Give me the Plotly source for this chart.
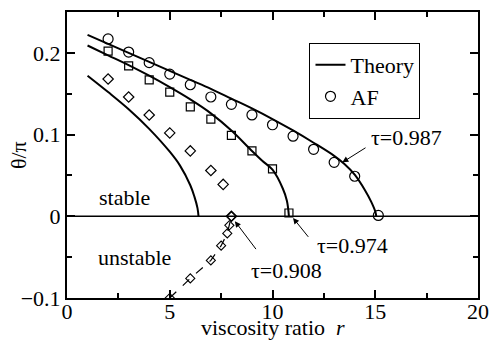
import plotly.graph_objects as go

# ---- data ----
r_af_987 = [2, 3, 4, 5, 6, 7, 8, 9, 10, 11, 12, 13, 14, 15.15]
th_af_987 = [0.217, 0.201, 0.188, 0.174, 0.161, 0.146, 0.137, 0.124, 0.112, 0.098, 0.082, 0.066, 0.049, 0.001]

r_af_974 = [2, 3, 4, 5, 6, 7, 8, 9, 10, 10.8]
th_af_974 = [0.202, 0.184, 0.167, 0.152, 0.134, 0.119, 0.099, 0.080, 0.058, 0.004]

r_af_908 = [2, 3, 4, 5, 6, 7, 7.6, 8.0]
th_af_908 = [0.168, 0.146, 0.124, 0.102, 0.080, 0.056, 0.039, 0.0]

r_af_908_unst = [5.0, 6.0, 7.0, 7.5, 7.8, 7.9, 8.0]
th_af_908_unst = [-0.1, -0.076, -0.054, -0.036, -0.021, -0.011, 0.0]

r_th_987 = [1, 2, 3, 4, 5, 6, 7, 8, 9, 10, 11, 12, 13, 13.5, 14, 14.5, 14.8, 15.0, 15.05]
th_th_987 = [0.222, 0.211, 0.200, 0.189, 0.178, 0.167, 0.156, 0.144, 0.132, 0.119, 0.105, 0.090,
             0.074, 0.064, 0.051, 0.032, 0.018, 0.006, 0.0]

r_th_974 = [1, 2, 3, 4, 5, 6, 7, 8, 9, 9.5, 10, 10.5, 10.7, 10.8]
th_th_974 = [0.209, 0.197, 0.185, 0.172, 0.158, 0.143, 0.126, 0.105, 0.080, 0.068, 0.057, 0.034, 0.019, 0.0]

r_th_908 = [1, 2, 3, 4, 5, 5.5, 6, 6.2, 6.35, 6.4]
th_th_908 = [0.172, 0.152, 0.131, 0.107, 0.079, 0.062, 0.038, 0.024, 0.010, 0.0]

x_ticks = [0, 5, 10, 15, 20]
y_ticks = [-0.1, 0, 0.1, 0.2]
y_ticktext = ["−0.1", "0", "0.1", "0.2"]

FONT = "Liberation Serif"
FS = 22
TXT = dict(family=FONT, size=FS, color="black")

fig = go.Figure()

# theory lines
for i, (rx, ty) in enumerate([(r_th_987, th_th_987), (r_th_974, th_th_974), (r_th_908, th_th_908)]):
    fig.add_trace(go.Scatter(x=rx, y=ty, mode="lines", line=dict(color="black", width=2),
                             name="Theory", showlegend=(i == 0), line_shape="spline"))

# AF points
fig.add_trace(go.Scatter(x=r_af_987, y=th_af_987, mode="markers", name="AF",
                         marker=dict(symbol="circle-open", size=10, color="black", line=dict(width=1.2))))
fig.add_trace(go.Scatter(x=r_af_974, y=th_af_974, mode="markers", showlegend=False,
                         marker=dict(symbol="square-open", size=8, color="black", line=dict(width=1.2))))
fig.add_trace(go.Scatter(x=r_af_908, y=th_af_908, mode="markers", showlegend=False,
                         marker=dict(symbol="diamond-open", size=8, color="black", line=dict(width=1.2))))
fig.add_trace(go.Scatter(x=r_af_908_unst, y=th_af_908_unst, mode="lines+markers", showlegend=False,
                         line=dict(color="black", width=1.2, dash="dash"),
                         marker=dict(symbol="diamond-open", size=7, color="black", line=dict(width=1.1))))

# zero line
fig.add_hline(y=0, line=dict(color="black", width=1.5))

# text labels
fig.add_annotation(x=2.8, y=0.023, text="stable", showarrow=False, font=TXT)
fig.add_annotation(x=3.3, y=-0.050, text="unstable", showarrow=False, font=TXT)
fig.add_annotation(x=16.5, y=0.097, text="τ=0.987", showarrow=False, font=TXT)
fig.add_annotation(x=13.9, y=-0.036, text="τ=0.974", showarrow=False, font=TXT)
fig.add_annotation(x=10.7, y=-0.066, text="τ=0.908", showarrow=False, font=TXT)

# arrows
for (tx, ty, hx, hy) in [(14.6, 0.085, 13.4, 0.066), (11.8, -0.027, 11.0, -0.002), (9.25, -0.042, 8.17, -0.006)]:
    fig.add_annotation(x=hx, y=hy, ax=tx, ay=ty, xref="x", yref="y", axref="x", ayref="y",
                       text="", showarrow=True, arrowhead=2, arrowsize=1.2, arrowwidth=1, arrowcolor="black")

# axis titles
fig.add_annotation(x=0.5, y=-(341 - 298) / 286, xref="paper", yref="paper", text="viscosity ratio  <i>r</i>",
                   showarrow=False, font=TXT, xanchor="center", yanchor="bottom", borderpad=0)
fig.add_annotation(x=-0.119, y=0.5, xref="paper", yref="paper", text="θ/π", textangle=-90,
                   showarrow=False, font=TXT, xanchor="center", yanchor="middle")

axis_common = dict(showline=True, linecolor="black", linewidth=2, mirror="ticks", ticks="inside",
                   ticklen=8, tickwidth=1.5, tickcolor="black", showgrid=False, zeroline=False,
                   automargin=False, tickfont=TXT)

fig.update_xaxes(range=[0, 20], tickvals=x_ticks, ticktext=[str(v) for v in x_ticks],
                 ticklabelstandoff=-7,
                 minor=dict(ticks="inside", ticklen=5, tickwidth=1.5, tickcolor="black", dtick=2.5, showgrid=False),
                 **axis_common)
fig.update_yaxes(range=[-0.1, 0.25], tickvals=y_ticks, ticktext=y_ticktext,
                 minor=dict(ticks="inside", ticklen=5, tickwidth=1.5, tickcolor="black", dtick=0.05, showgrid=False),
                 **axis_common)

fig.update_layout(
    width=490, height=341,
    margin=dict(l=67, r=12, t=12, b=43),
    paper_bgcolor="white", plot_bgcolor="white",
    font=TXT,
    legend=dict(x=0.59, y=0.892, xanchor="left", yanchor="top", borderwidth=1, bordercolor="black",
                bgcolor="white", font=TXT, itemwidth=30, tracegroupgap=0),
    showlegend=True,
)

fig.write_html("out.html", config={"displayModeBar": False},
               post_script="document.body.style.margin='0';document.body.style.overflow='hidden';")
